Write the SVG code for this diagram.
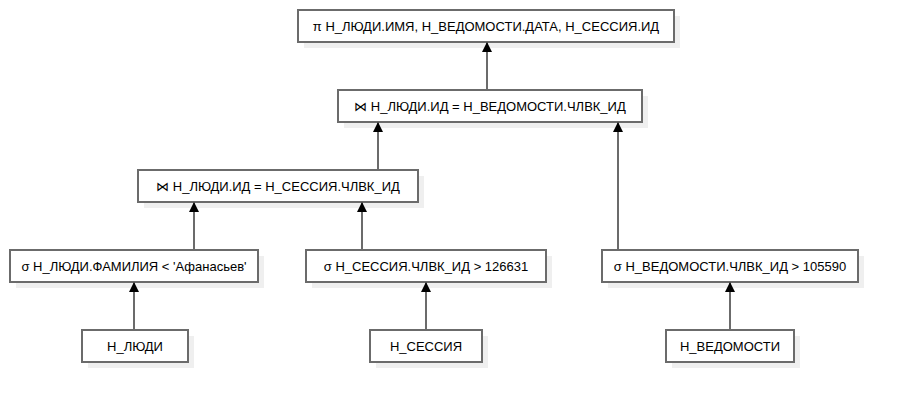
<svg xmlns="http://www.w3.org/2000/svg" width="898" height="402" viewBox="0 0 898 402">
<defs>
<style>
.sh{fill:#efefef;stroke:none}
.bx{fill:#ffffff;stroke:#6b6b6b;stroke-width:2}
.tx{font-family:"Liberation Sans",Arial,sans-serif;font-size:13px;fill:#000;text-anchor:middle;dominant-baseline:central}
.ln{stroke:#6b6b6b;stroke-width:2;fill:none;marker-end:url(#ah)}
</style>
<marker id="ah" viewBox="0 0 10 10" refX="10" refY="5" markerWidth="10" markerHeight="10" markerUnits="userSpaceOnUse" orient="auto">
<path d="M0,0 L10,5 L0,10 z" fill="#000"/>
</marker>
</defs>
<rect width="898" height="402" fill="#fff"/>
<g id="proj">
<rect class="sh" x="304" y="16" width="376" height="32"/>
<rect class="bx" x="298" y="10" width="376" height="32"/>
<text class="tx" x="486" y="26">π Н_ЛЮДИ.ИМЯ, Н_ВЕДОМОСТИ.ДАТА, Н_СЕССИЯ.ИД</text>
</g>
<g id="join1">
<rect class="sh" x="344" y="96" width="304" height="32"/>
<rect class="bx" x="338" y="90" width="304" height="32"/>
<text class="tx" x="490" y="106">⋈ Н_ЛЮДИ.ИД = Н_ВЕДОМОСТИ.ЧЛВК_ИД</text>
</g>
<g id="join2">
<rect class="sh" x="144" y="176" width="280" height="32"/>
<rect class="bx" x="138" y="170" width="280" height="32"/>
<text class="tx" x="278" y="186">⋈ Н_ЛЮДИ.ИД = Н_СЕССИЯ.ЧЛВК_ИД</text>
</g>
<g id="sel1">
<rect class="sh" x="16" y="256" width="248" height="32"/>
<rect class="bx" x="10" y="250" width="248" height="32"/>
<text class="tx" x="134" y="266">σ Н_ЛЮДИ.ФАМИЛИЯ &lt; 'Афанасьев'</text>
</g>
<g id="sel2">
<rect class="sh" x="312" y="256" width="240" height="32"/>
<rect class="bx" x="306" y="250" width="240" height="32"/>
<text class="tx" x="426" y="266">σ Н_СЕССИЯ.ЧЛВК_ИД &gt; 126631</text>
</g>
<g id="sel3">
<rect class="sh" x="608" y="256" width="256" height="32"/>
<rect class="bx" x="602" y="250" width="256" height="32"/>
<text class="tx" x="730" y="266">σ Н_ВЕДОМОСТИ.ЧЛВК_ИД &gt; 105590</text>
</g>
<g id="t_people">
<rect class="sh" x="88" y="336" width="106" height="32"/>
<rect class="bx" x="82" y="330" width="106" height="32"/>
<text class="tx" x="135" y="346">Н_ЛЮДИ</text>
</g>
<g id="t_session">
<rect class="sh" x="376" y="336" width="112" height="32"/>
<rect class="bx" x="370" y="330" width="112" height="32"/>
<text class="tx" x="426" y="346">Н_СЕССИЯ</text>
</g>
<g id="t_ved">
<rect class="sh" x="672" y="336" width="128" height="32"/>
<rect class="bx" x="666" y="330" width="128" height="32"/>
<text class="tx" x="730" y="346">Н_ВЕДОМОСТИ</text>
</g>
<g id="connectors">
<line class="ln" x1="487" y1="89" x2="487" y2="42"/>
<line class="ln" x1="378" y1="169" x2="378" y2="122"/>
<line class="ln" x1="618" y1="249" x2="618" y2="122"/>
<line class="ln" x1="194" y1="249" x2="194" y2="202"/>
<line class="ln" x1="362" y1="249" x2="362" y2="202"/>
<line class="ln" x1="134" y1="329" x2="134" y2="282"/>
<line class="ln" x1="426" y1="329" x2="426" y2="282"/>
<line class="ln" x1="730" y1="329" x2="730" y2="282"/>
</g>
</svg>
